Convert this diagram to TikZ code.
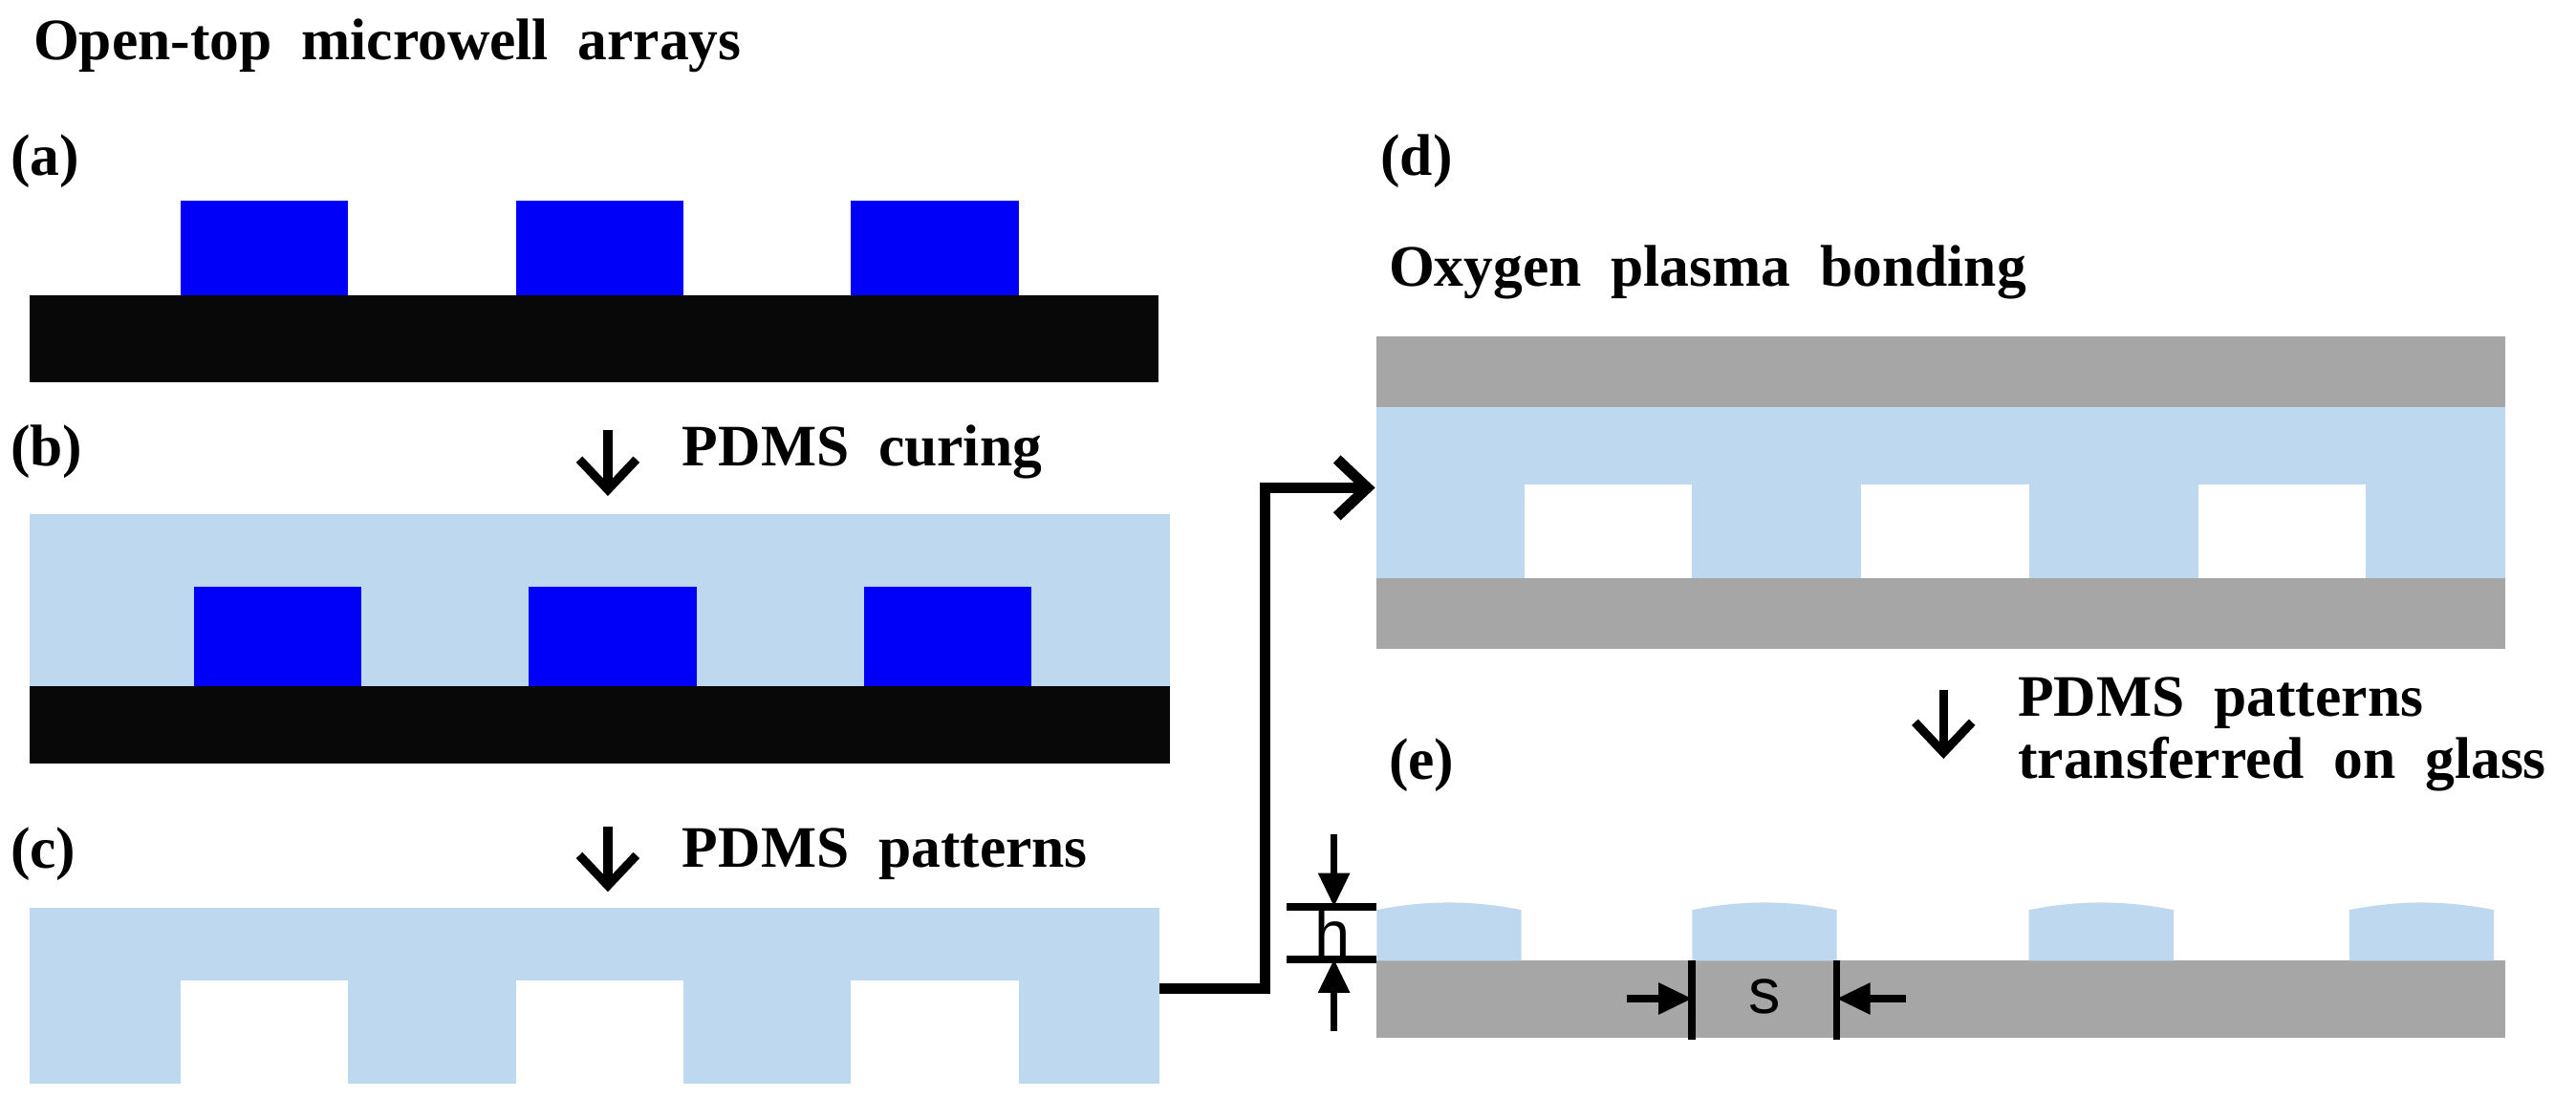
\documentclass[tikz,border=0pt]{standalone}
\usepackage{fontspec}
\setmainfont{Liberation Serif}
\setsansfont{Liberation Sans}
\usetikzlibrary{arrows.meta}
\definecolor{pdms}{RGB}{190,216,240}
\definecolor{mold}{RGB}{0,0,250}
\definecolor{sub}{RGB}{8,8,8}
\definecolor{glass}{RGB}{166,166,166}
\begin{document}
\begin{tikzpicture}[x=0.017188cm,y=-0.017188cm,
  lab/.style={font=\fontsize{17.5}{20}\selectfont\bfseries,inner sep=0pt,anchor=west},
  sans/.style={font=\fontsize{19}{22}\selectfont\sffamily,inner sep=0pt},
  stp/.style={line width=2.6pt,-{Straight Barb[length=9pt,width=17pt]}},
  dim/.style={line width=2pt,-{Triangle[length=10pt,width=9pt]}}]
\useasboundingbox (0,0) rectangle (1568,668.5);
% titles and labels
\node[lab] (title) at (20,28) {Open-top\ \ microwell\ \ arrays};
\node[lab] (la) at (6,98) {(a)};
\node[lab] (lb) at (6,275) {(b)};
\node[lab] (lc) at (6,520) {(c)};
\node[lab] (ld) at (840,98) {(d)};
\node[lab] (le) at (845,466) {(e)};
\node[lab] (tox) at (845,166) {Oxygen\ \ plasma\ \ bonding};
% (a)
\fill[sub] (18,180) rectangle (705,233);
\foreach \x in {110,314,518} \fill[mold] (\x,122) rectangle (\x+102,180);
% (b)
\fill[pdms] (18,313) rectangle (712,418);
\fill[sub] (18,418) rectangle (712,465);
\foreach \x in {118,322,526} \fill[mold] (\x,357) rectangle (\x+102,418);
% (c)
\fill[pdms] (18,553) rectangle (706,660);
\foreach \x in {110,314,518} \fill[white] (\x,597) rectangle (\x+102,661);
% (d)
\fill[glass] (838,205) rectangle (1525,248);
\fill[pdms] (838,248) rectangle (1525,352);
\foreach \x in {928,1133,1338} \fill[white] (\x,295) rectangle (\x+102,352);
\fill[glass] (838,352) rectangle (1525,395);
% (e)
\fill[glass] (838,585) rectangle (1525,632);
\foreach \x in {838,1030,1235,1430}
  \fill[pdms] (\x,585) -- (\x,554) .. controls (\x+30,548) and (\x+58,548) .. (\x+88,554) -- (\x+88,585) -- cycle;
% step arrows
\coordinate (a1s) at (370,262); \coordinate (a1e) at (370,302);
\draw[stp] (a1s) -- (a1e);
\node[lab] (t1) at (415,275) {PDMS\ \ curing};
\coordinate (a2s) at (370,503); \coordinate (a2e) at (370,543);
\draw[stp] (a2s) -- (a2e);
\node[lab] (t2) at (415,520) {PDMS\ \ patterns};
\coordinate (a3s) at (1183,420); \coordinate (a3e) at (1183,462);
\draw[stp] (a3s) -- (a3e);
\node[lab] (t3) at (1228,428) {PDMS\ \ patterns};
\node[lab] (t4) at (1228,465) {transferred\ \ on\ \ glass};
% connector c -> d
\coordinate (cout) at (706,602);
\coordinate (din) at (837,297);
\draw[stp,line width=3.2pt,line join=miter] (cout) -- (770,602) |- (din);
% h dimension
\coordinate (h1a) at (783,552); \coordinate (h1b) at (838,552);
\coordinate (h2a) at (783,584); \coordinate (h2b) at (838,584);
\draw[line width=2.2pt] (h1a) -- (h1b) (h2a) -- (h2b);
\coordinate (ht) at (812,508); \coordinate (hb) at (812,628);
\draw[dim] (ht) -- (812,552);
\draw[dim] (hb) -- (812,584);
\node[sans] (h) at (811,568) {h};
% s dimension
\coordinate (s1) at (1030,585); \coordinate (s2) at (1118,585);
\draw[line width=2.2pt] (s1) -- (1030,633) (s2) -- (1118,633);
\coordinate (sl) at (990,608); \coordinate (sr) at (1160,608);
\draw[dim] (sl) -- (1030,608);
\draw[dim] (sr) -- (1118,608);
\node[sans] (s) at (1074,607) {s};
\end{tikzpicture}
\end{document}
